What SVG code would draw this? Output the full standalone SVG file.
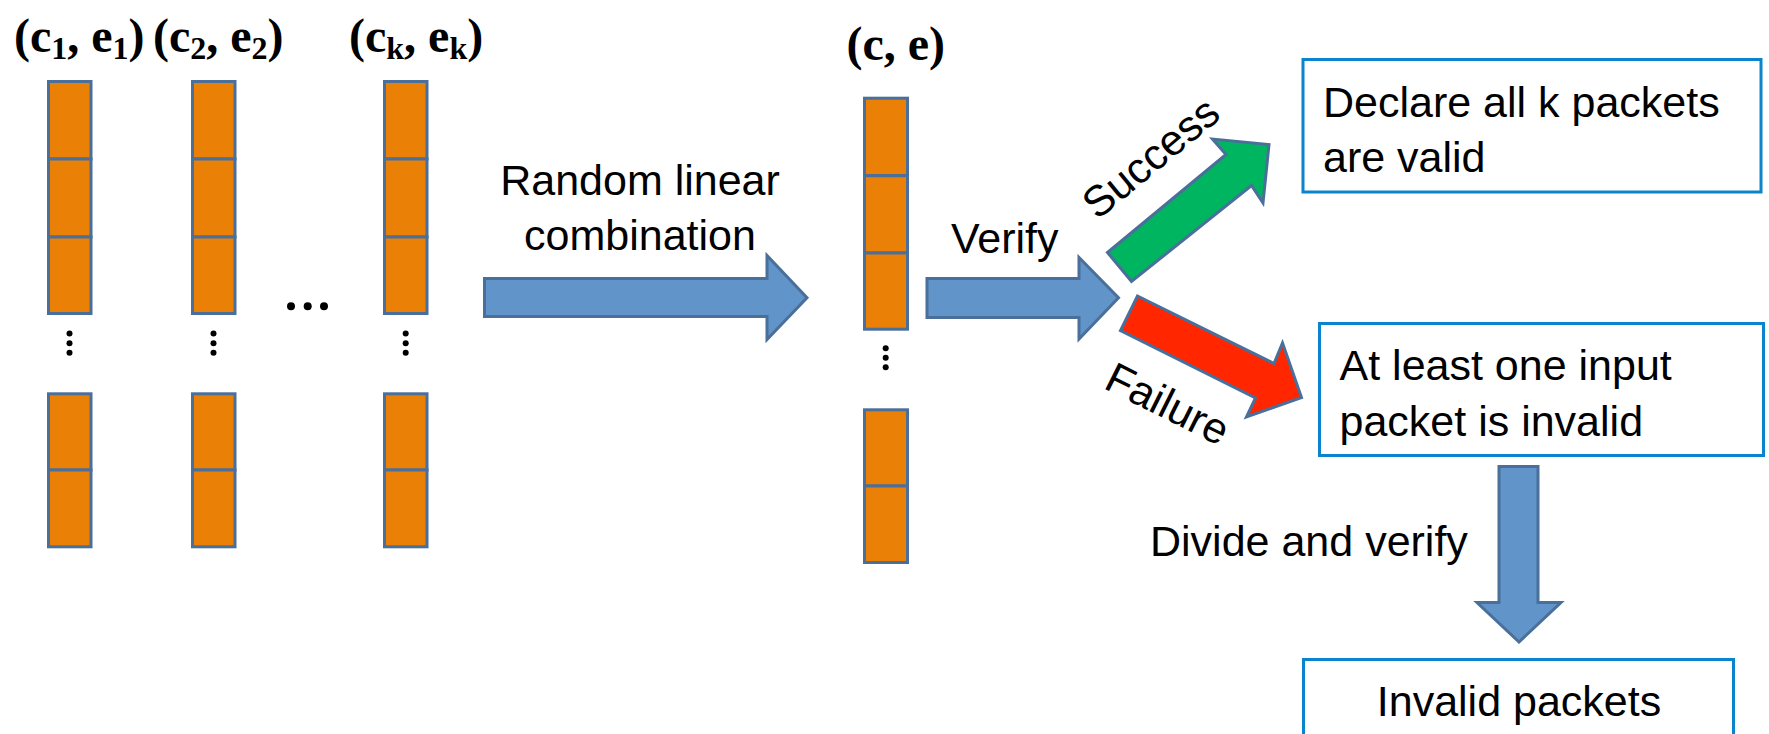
<svg xmlns="http://www.w3.org/2000/svg" width="1769" height="734" viewBox="0 0 1769 734">
<style>
.cell{fill:#EA8005;stroke:#4A6F9A;stroke-width:3}
.dot{fill:#000}
.lbl{font-family:"Liberation Serif","Times New Roman",serif;font-weight:bold;font-size:48px;fill:#000}
.sub{font-size:32px}
.txt{font-family:"Liberation Sans",Arial,sans-serif;font-size:43px;fill:#000}
.box{fill:#fff;stroke:#0A84CC;stroke-width:3}
.blue{fill:#6195C9;stroke:#4A6F9A;stroke-width:3;stroke-linejoin:miter}
.green{fill:#00B55F;stroke:#4A6F9A;stroke-width:3}
.red{fill:#FF2600;stroke:#4A6F9A;stroke-width:3}
</style>
<rect width="1769" height="734" fill="#fff"/>

<g id="packet1">
  <text class="lbl" x="14" y="51.5">(c<tspan class="sub" dy="7">1</tspan><tspan dy="-7">, e</tspan><tspan class="sub" dy="7">1</tspan><tspan dy="-7">)</tspan></text>
  <rect class="cell" x="48.5" y="81.5" width="42.5" height="77.5"/>
  <rect class="cell" x="48.5" y="159" width="42.5" height="78"/>
  <rect class="cell" x="48.5" y="237" width="42.5" height="76.5"/>
  <circle class="dot" cx="69.5" cy="333.5" r="3"/>
  <circle class="dot" cx="69.5" cy="343.3" r="3"/>
  <circle class="dot" cx="69.5" cy="352.8" r="3"/>
  <rect class="cell" x="48.5" y="393.8" width="42.5" height="76.2"/>
  <rect class="cell" x="48.5" y="470" width="42.5" height="76.8"/>
</g>

<g id="packet2">
  <text class="lbl" x="153" y="51.5">(c<tspan class="sub" dy="7">2</tspan><tspan dy="-7">, e</tspan><tspan class="sub" dy="7">2</tspan><tspan dy="-7">)</tspan></text>
  <rect class="cell" x="192.5" y="81.5" width="42.5" height="77.5"/>
  <rect class="cell" x="192.5" y="159" width="42.5" height="78"/>
  <rect class="cell" x="192.5" y="237" width="42.5" height="76.5"/>
  <circle class="dot" cx="213.5" cy="333.5" r="3"/>
  <circle class="dot" cx="213.5" cy="343.3" r="3"/>
  <circle class="dot" cx="213.5" cy="352.8" r="3"/>
  <rect class="cell" x="192.5" y="393.8" width="42.5" height="76.2"/>
  <rect class="cell" x="192.5" y="470" width="42.5" height="76.8"/>
</g>

<g id="ellipsis">
  <circle class="dot" cx="291" cy="306.3" r="4"/>
  <circle class="dot" cx="307.7" cy="306.3" r="4"/>
  <circle class="dot" cx="324" cy="306.3" r="4"/>
</g>

<g id="packetk">
  <text class="lbl" x="349" y="51.5">(c<tspan class="sub" dy="7">k</tspan><tspan dy="-7">, e</tspan><tspan class="sub" dy="7">k</tspan><tspan dy="-7">)</tspan></text>
  <rect class="cell" x="384.5" y="81.5" width="42.5" height="77.5"/>
  <rect class="cell" x="384.5" y="159" width="42.5" height="78"/>
  <rect class="cell" x="384.5" y="237" width="42.5" height="76.5"/>
  <circle class="dot" cx="405.7" cy="333.5" r="3"/>
  <circle class="dot" cx="405.7" cy="343.3" r="3"/>
  <circle class="dot" cx="405.7" cy="352.8" r="3"/>
  <rect class="cell" x="384.5" y="393.8" width="42.5" height="76.2"/>
  <rect class="cell" x="384.5" y="470" width="42.5" height="76.8"/>
</g>

<g id="combined">
  <text class="lbl" x="846.5" y="59.5">(c, e)</text>
  <rect class="cell" x="864.5" y="98.2" width="43" height="77.5"/>
  <rect class="cell" x="864.5" y="175.7" width="43" height="77.3"/>
  <rect class="cell" x="864.5" y="253" width="43" height="76.2"/>
  <circle class="dot" cx="885.7" cy="348.3" r="3"/>
  <circle class="dot" cx="885.7" cy="357.7" r="3"/>
  <circle class="dot" cx="885.7" cy="367.3" r="3"/>
  <rect class="cell" x="864.5" y="409.8" width="43" height="76.2"/>
  <rect class="cell" x="864.5" y="486" width="43" height="76.5"/>
</g>

<g id="valid">
  <rect class="box" x="1303" y="59.5" width="458" height="132.5"/>
  <text class="txt" x="1323" y="116.5">Declare all k packets</text>
  <text class="txt" x="1323" y="171.5">are valid</text>
</g>

<g id="invalid-check">
  <rect class="box" x="1319.5" y="323.5" width="444" height="132"/>
  <text class="txt" x="1339.5" y="380">At least one input</text>
  <text class="txt" x="1339.5" y="436">packet is invalid</text>
</g>

<g id="invalid-packets">
  <rect class="box" x="1303.5" y="659.5" width="430" height="76"/>
  <text class="txt" x="1519" y="715.5" text-anchor="middle">Invalid packets</text>
</g>

<g id="connectors">
  <polygon class="blue" points="484.5,278.5 767,278.5 767,255.5 807,297.7 767,339.5 767,316.5 484.5,316.5"/>
  <text class="txt" x="640" y="195" text-anchor="middle">Random linear</text>
  <text class="txt" x="640" y="250" text-anchor="middle">combination</text>

  <polygon class="blue" points="927,278.5 1079,278.5 1079,257.5 1118.5,297.7 1079,339 1079,317.5 927,317.5"/>
  <text class="txt" x="951" y="253">Verify</text>

  <polygon class="green" points="1107.5,252.5 1226,154.5 1212.5,139 1269,144.5 1263,203 1251.5,185.5 1131.5,281.5"/>
  <text class="txt" x="1160" y="169" text-anchor="middle" transform="rotate(-39.6 1160 169)">Success</text>

  <polygon class="red" points="1137.5,296 1274,363.5 1282.5,343 1301.5,397.5 1246.5,417 1255.5,398 1120.5,330.5"/>
  <text class="txt" x="1161" y="417" text-anchor="middle" transform="rotate(26.5 1161 417)">Failure</text>

  <polygon class="blue" points="1499,466.5 1538,466.5 1538,602.5 1561,602.5 1519,642 1477,602.5 1499,602.5"/>
  <text class="txt" x="1150" y="556">Divide and verify</text>
</g>
</svg>
